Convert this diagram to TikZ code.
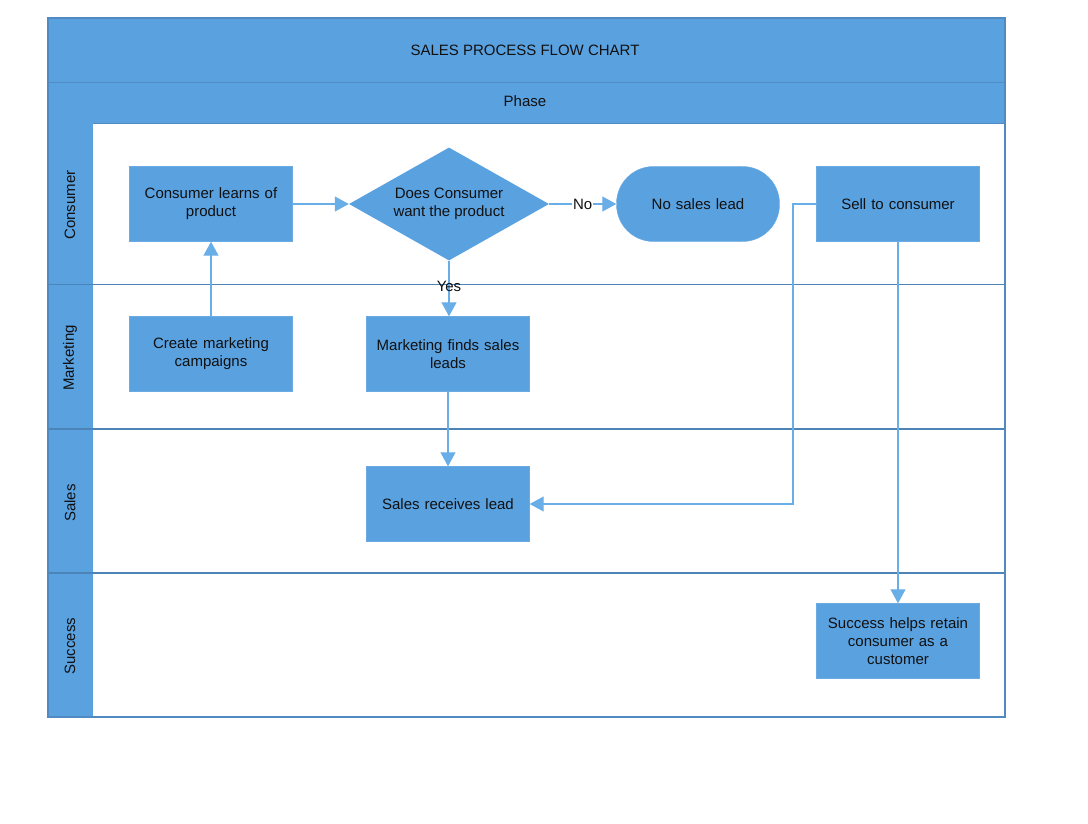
\documentclass[tikz,border=0pt]{standalone}
\usepackage{fontspec}
\setmainfont{Liberation Sans}
\usetikzlibrary{shapes.geometric,arrows.meta}
\definecolor{fillb}{HTML}{5AA1E0}
\definecolor{lineb}{HTML}{4D84B8}
\definecolor{conb}{HTML}{6AAEE8}
\definecolor{txt}{HTML}{111111}
\tikzset{
  box/.style={draw=fillb!90!white, fill=fillb, minimum width=163pt, minimum height=75pt, align=center, text width=155pt, inner sep=0pt, font=\fontsize{15}{18}\selectfont, text=txt},
  term/.style={box, rounded corners=37pt},
  dec/.style={diamond, fill=fillb, minimum width=200pt, minimum height=113pt, aspect=1.77, inner sep=0pt, align=center, font=\fontsize{15}{18}\selectfont, text=txt},
  con/.style={draw=conb, line width=1.1pt, -{Triangle[width=15pt,length=14pt]}},
  lane/.style={draw=lineb, line width=1.3pt},
  lbl/.style={font=\fontsize{15}{18}\selectfont, text=txt},
  elbl/.style={font=\fontsize{15}{18}\selectfont, text=txt, fill=white, inner sep=1pt}
}
\begin{document}
\begin{tikzpicture}[x=1pt,y=-1pt]
\useasboundingbox (0,0) rectangle (1088,824);
% header and left column
\fill[fillb] (48,18) rectangle (1005,123);
\fill[fillb] (48,123) rectangle (93,717);
\draw[lineb!70!fillb, line width=0.8pt] (48,82) -- (1005,82);
\draw[lineb!80!fillb, line width=0.8pt] (93,123) -- (1005,123);
\node[lbl] (title) at (525,50) {SALES PROCESS FLOW CHART};
\node[lbl] (phase) at (525,101) {Phase};
% lanes
\draw[lane] (48,284.5) -- (1005,284.5);
\draw[lane] (48,429) -- (1005,429);
\draw[lane] (48,573) -- (1005,573);
\draw[lineb!80!fillb, line width=1.3pt] (48,18) rectangle (1005,717);
\node[lbl, rotate=90] (lc) at (70,205) {Consumer};
\node[lbl, rotate=90] (lm) at (70,358) {Marketing};
\node[lbl, rotate=90] (ls) at (70,503) {Sales};
\node[lbl, rotate=90] (lsu) at (70,646) {Success};
% nodes
\node[box] (learn) at (211,204) {Consumer learns of\\product};
\node[dec] (want) at (449,204) {Does Consumer\\want the product};
\node[term] (nolead) at (698,204) {No sales lead};
\node[box] (sell) at (898,204) {Sell to consumer};
\node[box] (camp) at (211,354) {Create marketing\\campaigns};
\node[box] (finds) at (448,354) {Marketing finds sales\\leads};
\node[box] (recv) at (448,504) {Sales receives lead};
\node[box] (succ) at (898,641) {Success helps retain\\consumer as a\\customer};
% connectors
\draw[con] (learn.east) -- (want.west);
\draw[con] (want.east) -- node[elbl] {No} (nolead.west);
\draw[con] (want.south) -- node[elbl, pos=0.47, fill=none] {Yes} (finds.north -| want.south);
\draw[con] (camp.north) -- (learn.south);
\draw[con] (finds.south) -- (recv.north);
\coordinate (bend1) at (793,204);
\coordinate (bend2) at (793,504);
\draw[con] (sell.west) -- (bend1) -- (bend2) -- (recv.east);
\draw[con] (sell.south) -- (succ.north);
\end{tikzpicture}
\end{document}
